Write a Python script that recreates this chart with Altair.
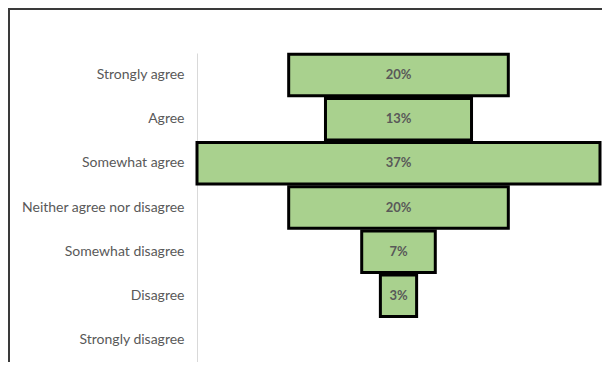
import altair as alt
import pandas as pd

categories = ["Strongly agree", "Agree", "Somewhat agree", "Neither agree nor disagree",
              "Somewhat disagree", "Disagree", "Strongly disagree"]
shares = [0.200, 0.133, 0.367, 0.200, 0.067, 0.033, 0.0]

df = pd.DataFrame({"category": categories, "share": shares})

PAD_L, PAD_T, PAD_R, PAD_B = 189, 45, 2, 0
W, H = 403, 309

base = alt.Chart(df).transform_filter(
    alt.datum.share > 0
).transform_joinaggregate(
    top="max(share)"
).transform_calculate(
    start="(datum.top - datum.share) / 2",
    end="(datum.top + datum.share) / 2",
    mid="datum.top / 2",
)

yenc = alt.Y(
    "category:N",
    sort=categories,
    scale=alt.Scale(domain=categories, paddingInner=0.06, paddingOuter=0.03),
    axis=alt.Axis(
        title=None, ticks=False, labelPadding=13, labelFontSize=14, labelFont="Lato",
        labelColor="#595959", domainColor="#d9d9d9", domainWidth=1, labelLimit=300,
    ),
)
xscale = alt.Scale(domain=[0, 0.367], nice=False, zero=False)

bars = base.mark_bar(color="#a9d18e", stroke="#000000", strokeWidth=3).encode(
    y=yenc,
    x=alt.X("start:Q", scale=xscale, axis=None),
    x2="end:Q",
)

labels = base.mark_text(font="Lato", fontSize=13, fontWeight="bold", color="#595959").encode(
    y=alt.Y("category:N", sort=categories),
    x=alt.X("mid:Q", scale=xscale, axis=None),
    text=alt.Text("share:Q", format=".0%"),
)

frame_df = pd.DataFrame({"k": [0]})
frame_left = alt.Chart(frame_df).mark_rule(color="#3a3a3a", strokeWidth=2).encode(
    x=alt.value(1 - PAD_L), y=alt.value(-PAD_T), y2=alt.value(H + 50)
)
frame_top = alt.Chart(frame_df).mark_rule(color="#3a3a3a", strokeWidth=2).encode(
    y=alt.value(1 - PAD_T), x=alt.value(-PAD_L), x2=alt.value(W + 50)
)

chart = alt.layer(bars, labels, frame_left, frame_top).properties(
    width=W, height=H,
    background="white",
    autosize=alt.AutoSizeParams(type="none"),
    padding={"left": PAD_L, "top": PAD_T, "right": PAD_R, "bottom": PAD_B},
).configure_view(stroke="transparent")

chart.save("out.html", embed_options={"renderer": "svg", "actions": False})
